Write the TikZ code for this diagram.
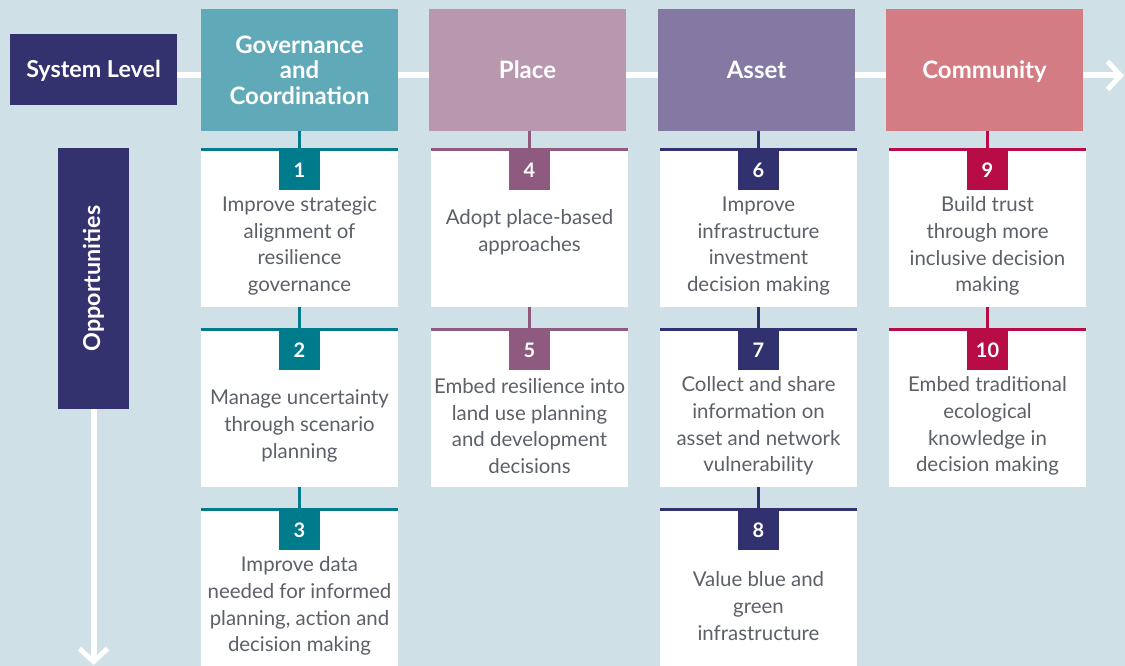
\documentclass[tikz,border=0pt]{standalone}
\usepackage{fontspec}
\setmainfont{Lato}
\usetikzlibrary{arrows.meta}
\definecolor{bg}{RGB}{207,225,231}
\definecolor{navy}{RGB}{51,50,111}
\definecolor{govh}{RGB}{95,169,184}
\definecolor{plah}{RGB}{185,151,174}
\definecolor{assh}{RGB}{132,121,162}
\definecolor{comh}{RGB}{212,124,132}
\definecolor{govb}{RGB}{0,123,139}
\definecolor{plab}{RGB}{143,90,128}
\definecolor{assb}{RGB}{50,49,112}
\definecolor{comb}{RGB}{184,12,71}
\definecolor{txt}{RGB}{92,96,104}
\begin{document}
\begin{tikzpicture}[x=1pt,y=-1pt,
  hdr/.style={fill=#1, minimum width=197pt, minimum height=122pt, inner sep=0pt, text=white,
    font=\bfseries\fontsize{24}{25.5}\selectfont, align=center},
  lbl/.style={fill=navy, inner sep=0pt, text=white},
  lblfont/.style={text=white, font=\bfseries\fontsize{23.3}{26}\selectfont},
  card/.style={fill=white, minimum width=197pt, minimum height=157pt, inner sep=0pt},
  lastcard/.style={fill=white, minimum width=197pt, minimum height=156pt, inner sep=0pt},
  badge/.style={fill=#1, minimum width=41pt, minimum height=40pt, inner sep=0pt, text=white,
    font=\bfseries\fontsize{20}{22}\selectfont, anchor=north},
  body/.style={text=txt, font=\fontsize{20.4}{26.7}\selectfont, align=center, inner sep=0pt},
  toprule/.style={line width=3pt, draw=#1},
  conn/.style={line width=3pt, draw=#1},
  flow/.style={line width=6pt, draw=white, -{Straight Barb[length=13pt,width=28pt,line width=5pt]}}
]
\fill[bg] (0,0) rectangle (1125,666);
\useasboundingbox (0,0) rectangle (1125,666);

% left labels
\node[lbl, minimum width=167pt, minimum height=71pt] (sys) at (93.5,69.5) {};
\node[lblfont] (syst) at ([yshift=-1.5pt]sys.center) {System Level};
\node[lbl, minimum width=71pt, minimum height=261pt] (opp) at (93.5,278.5) {};
\node[lblfont, rotate=90] (oppt) at (opp.center) {Opportunities};

% flow arrows
\coordinate (endh) at (1124,75.5);
\coordinate (endv) at (93.5,665);
\draw[flow] ([yshift=-6pt]sys.east) -- (endh);
\draw[flow] (opp.south) -- (endv);

% headers
\node[hdr=govh] (hG) at (299.5,70) {Governance\\and\\Coordination};
\node[hdr=plah] (hP) at (527.5,70) {Place};
\node[hdr=assh] (hA) at (756.5,70) {Asset};
\node[hdr=comh] (hC) at (984.5,70) {\raisebox{-8.5pt}[0pt][0pt]{Community}};

% cards
\node[card] (c1) at (299.5,228.5) {};
\node[card] (c2) at (299.5,408.5) {};
\node[lastcard] (c3) at (299.5,588) {};
\node[card] (c4) at (529.5,228.5) {};
\node[card] (c5) at (529.5,408.5) {};
\node[card] (c6) at (758.5,228.5) {};
\node[card] (c7) at (758.5,408.5) {};
\node[lastcard] (c8) at (758.5,588) {};
\node[card] (c9) at (987.5,228.5) {};
\node[card] (c10) at (987.5,408.5) {};

% connectors
\draw[conn=govb] (c1.north |- hG.south) -- (c1.north);
\draw[conn=govb] (c1.south) -- (c2.north);
\draw[conn=govb] (c2.south) -- (c3.north);
\draw[conn=plab] (c4.north |- hP.south) -- (c4.north);
\draw[conn=plab] (c4.south) -- (c5.north);
\draw[conn=assb] (c6.north |- hA.south) -- (c6.north);
\draw[conn=assb] (c6.south) -- (c7.north);
\draw[conn=assb] (c7.south) -- (c8.north);
\draw[conn=comb] (c9.north |- hC.south) -- (c9.north);
\draw[conn=comb] (c9.south) -- (c10.north);

% top rules
\foreach \c/\k in {c1/govb,c2/govb,c3/govb,c4/plab,c5/plab,c6/assb,c7/assb,c8/assb,c9/comb,c10/comb}{
  \draw[toprule=\k] ([yshift=0.5pt]\c.north west) -- ([yshift=0.5pt]\c.north east);
}

% badges
\node[badge=govb] (b1) at (c1.north) {1};
\node[badge=govb] (b2) at (c2.north) {2};
\node[badge=govb] (b3) at (c3.north) {3};
\node[badge=plab] (b4) at (c4.north) {4};
\node[badge=plab] (b5) at (c5.north) {5};
\node[badge=assb] (b6) at (c6.north) {6};
\node[badge=assb] (b7) at (c7.north) {7};
\node[badge=assb] (b8) at (c8.north) {8};
\node[badge=comb] (b9) at (c9.north) {9};
\node[badge=comb] (b10) at (c10.north) {10};

% texts
\node[body] (t1) at (299.5,246) {Improve strategic\\alignment of\\resilience\\governance};
\node[body] (t2) at (299.5,426) {Manage uncertainty\\through scenario\\planning};
\node[body] (t3) at (299.5,606) {Improve data\\needed for informed\\planning, action and\\decision making};
\node[body] (t4) at (529.5,232) {Adopt place-based\\approaches};
\node[body] (t5) at (529.5,426) {Embed resilience into\\land use planning\\and development\\decisions};
\node[body] (t6) at (758.5,246) {Improve\\infrastructure\\investment\\decision making};
\node[body] (t7) at (758.5,426) {Collect and share\\information on\\asset and network\\vulnerability};
\node[body] (t8) at (758.5,606) {Value blue and\\green\\infrastructure};
\node[body] (t9) at (987.5,246) {Build trust\\through more\\inclusive decision\\making};
\node[body] (t10) at (987.5,426) {Embed traditional\\ecological\\knowledge in\\decision making};
\end{tikzpicture}
\end{document}
